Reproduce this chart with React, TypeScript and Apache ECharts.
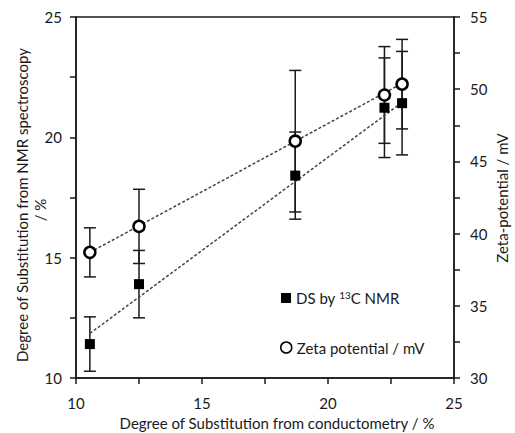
import React, { useEffect, useRef } from "react";
import * as echarts from "echarts";

const xValues = [10.55, 12.5, 18.7, 22.24, 22.94];
const nmrValues = [11.41, 13.9, 18.41, 21.23, 21.42];
const nmrErr = [1.13, 1.4, 1.81, 2.07, 2.15];
const zetaValues = [38.7, 40.5, 46.4, 49.6, 50.35];
const zetaErr = [1.7, 2.57, 4.9, 3.35, 3.1];
const trendX = [10.55, 22.94];
const nmrTrend = [11.85, 21.45];
const zetaTrend = [38.7, 50.4];

const NMR_NAME = "DS by 13C NMR";
const ZETA_NAME = "Zeta potential / mV";
const FONT = "Lato";
const INK = "#1a1a1a";

function errorRender(params: any, api: any) {
  const x = api.value(0);
  const lo = api.value(1);
  const hi = api.value(2);
  const top = api.coord([x, hi]);
  const bot = api.coord([x, lo]);
  const w = 6;
  const style = { stroke: INK, lineWidth: 1.5 };
  return {
    type: "group",
    children: [
      { type: "line", shape: { x1: top[0], y1: top[1], x2: bot[0], y2: bot[1] }, style },
      { type: "line", shape: { x1: top[0] - w, y1: top[1], x2: top[0] + w, y2: top[1] }, style },
      { type: "line", shape: { x1: bot[0] - w, y1: bot[1], x2: bot[0] + w, y2: bot[1] }, style },
    ],
  };
}

const isMajor = (v: number) => Math.abs(v / 5 - Math.round(v / 5)) < 1e-6;

export default function App() {
  const ref = useRef<HTMLDivElement>(null);
  useEffect(() => {
    document.body.style.margin = "0";
    if (!ref.current) return;
    const chart = echarts.init(ref.current, null, { renderer: "svg" });
    const axisLine = { show: true, lineStyle: { color: INK, width: 1.5 } };
    const axisTick = { show: true, inside: false, length: 6, lineStyle: { color: INK, width: 1.5 } };
    const axisLabel = (margin: number) => ({
      fontFamily: FONT,
      fontSize: 15,
      color: INK,
      margin,
      formatter: (v: number) => (isMajor(v) ? String(v) : ""),
    });
    const legendText = {
      fontFamily: FONT,
      fontSize: 15,
      color: INK,
      rich: {
        sup: { fontFamily: FONT, fontSize: 10, color: INK, verticalAlign: "top", padding: [0, 0, 6, 0] },
        n: { fontFamily: FONT, fontSize: 15, color: INK },
      },
    };
    const titleStyle = (text: string) => ({
      text,
      fontFamily: FONT,
      fontSize: 15,
      fill: INK,
      align: "center",
      verticalAlign: "middle",
    });
    chart.setOption({
      animation: false,
      grid: { left: 76, right: 61, top: 17, bottom: 55, show: true, borderColor: INK, borderWidth: 1.5 },
      xAxis: {
        type: "value",
        min: 10,
        max: 25,
        interval: 2.5,
        axisLine,
        axisTick,
        splitLine: { show: false },
        axisLabel: axisLabel(17),
      },
      yAxis: [
        {
          type: "value",
          min: 10,
          max: 25,
          interval: 2.5,
          position: "left",
          axisLine,
          axisTick,
          splitLine: { show: false },
          axisLabel: axisLabel(14),
        },
        {
          type: "value",
          min: 30,
          max: 55,
          interval: 2.5,
          position: "right",
          axisLine,
          axisTick,
          splitLine: { show: false },
          axisLabel: axisLabel(16),
        },
      ],
      legend: [
        {
          data: [{ name: NMR_NAME, itemStyle: { borderWidth: 0 } }],
          left: 276,
          top: 285,
          itemWidth: 10,
          itemHeight: 10,
          itemGap: 4,
          textStyle: legendText,
          formatter: () => "{n|DS by }{sup|13}{n|C NMR}",
        },
        {
          data: [{ name: ZETA_NAME, itemStyle: { borderWidth: 1.5 } }],
          left: 275,
          top: 335,
          itemWidth: 11,
          itemHeight: 11,
          textStyle: legendText,
        },
      ],
      graphic: [
        {
          type: "text",
          x: 277,
          y: 423,
          style: titleStyle("Degree of Substitution from conductometry / %"),
        },
        {
          type: "text",
          x: 22,
          y: 205,
          rotation: Math.PI / 2,
          style: titleStyle("Degree of Substitution from NMR spectroscopy"),
        },
        {
          type: "text",
          x: 40,
          y: 210,
          rotation: Math.PI / 2,
          style: titleStyle("/ %"),
        },
        {
          type: "text",
          x: 502,
          y: 198,
          rotation: Math.PI / 2,
          style: titleStyle("Zeta-potential / mV"),
        },
      ],
      series: [
        {
          type: "custom",
          name: "nmrErr",
          xAxisIndex: 0,
          yAxisIndex: 0,
          renderItem: errorRender,
          encode: { x: 0, y: [1, 2] },
          data: xValues.map((x, i) => [x, nmrValues[i] - nmrErr[i], nmrValues[i] + nmrErr[i]]),
          z: 1,
        },
        {
          type: "custom",
          name: "zetaErr",
          xAxisIndex: 0,
          yAxisIndex: 1,
          renderItem: errorRender,
          encode: { x: 0, y: [1, 2] },
          data: xValues.map((x, i) => [x, zetaValues[i] - zetaErr[i], zetaValues[i] + zetaErr[i]]),
          z: 1,
        },
        {
          type: "line",
          name: "nmrTrend",
          yAxisIndex: 0,
          data: trendX.map((x, i) => [x, nmrTrend[i]]),
          symbol: "none",
          lineStyle: { color: "#444", width: 1.5, type: [3, 2] },
          z: 2,
        },
        {
          type: "line",
          name: "zetaTrend",
          yAxisIndex: 1,
          data: trendX.map((x, i) => [x, zetaTrend[i]]),
          symbol: "none",
          lineStyle: { color: "#444", width: 1.5, type: [3, 2] },
          z: 2,
        },
        {
          type: "scatter",
          name: NMR_NAME,
          yAxisIndex: 0,
          data: xValues.map((x, i) => [x, nmrValues[i]]),
          symbol: "rect",
          symbolSize: 10,
          itemStyle: { color: "#000", opacity: 1 },
          z: 3,
        },
        {
          type: "scatter",
          name: ZETA_NAME,
          yAxisIndex: 1,
          data: xValues.map((x, i) => [x, zetaValues[i]]),
          symbol: "circle",
          symbolSize: 11,
          itemStyle: { color: "#fff", borderColor: "#000", borderWidth: 2.5, opacity: 1 },
          z: 3,
        },
      ],
    });
    return () => chart.dispose();
  }, []);
  return <div ref={ref} style={{ width: 515, height: 433 }} />;
}
